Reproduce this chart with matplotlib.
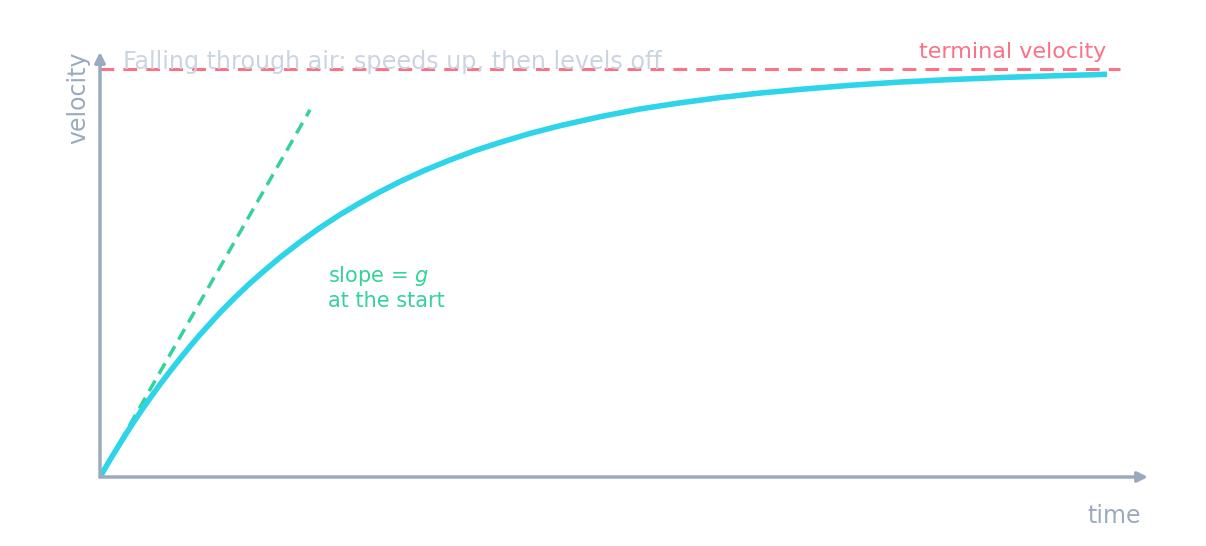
import matplotlib
matplotlib.use("Agg")
import matplotlib.pyplot as plt

t = [0, 0.1, 0.2, 0.3, 0.4, 0.5, 0.6, 0.7, 0.8, 0.9, 1.0, 1.1, 1.2, 1.35, 1.5, 1.65, 1.8, 2.0, 2.2, 2.4, 2.6, 2.8, 3.0, 3.25, 3.5, 3.75, 4.0, 4.3, 4.6, 5.0, 5.4, 5.8, 6.2, 6.6, 7.0, 7.5, 8.0, 8.5, 9.0, 9.5, 10.07]
v = [0, 0.042, 0.082, 0.121, 0.158, 0.193, 0.227, 0.259, 0.290, 0.320, 0.349, 0.376, 0.403, 0.440, 0.475, 0.507, 0.538, 0.576, 0.611, 0.643, 0.672, 0.699, 0.724, 0.752, 0.777, 0.800, 0.820, 0.842, 0.861, 0.883, 0.902, 0.917, 0.930, 0.941, 0.950, 0.960, 0.968, 0.974, 0.979, 0.983, 0.987]
tangent_t = [0, 2.1]
tangent_v = [0, 0.9]
terminal_t = [0, 10.2]
terminal_v = [1, 1]

fig = plt.figure(figsize=(12.06, 5.46), dpi=100)
ax = fig.add_axes([100/1206, 69/546, 1048/1206, 425/546])
ax.set_xlim(0, 10.48)
ax.set_ylim(0, 425/408)
ax.axis("off")
gray = "#9aabbf"
ax.annotate("", xy=(10.48, 0), xytext=(0, 0), arrowprops=dict(arrowstyle="-|>", color=gray, lw=2.5, mutation_scale=15, shrinkA=0, shrinkB=0))
ax.annotate("", xy=(0, 425/408), xytext=(0, 0), arrowprops=dict(arrowstyle="-|>", color=gray, lw=2.5, mutation_scale=15, shrinkA=0, shrinkB=0))

ax.plot(terminal_t, terminal_v, color="#fb7185", lw=2.2, ls=(0, (4.5, 3)))
ax.plot(tangent_t, tangent_v, color="#34d399", lw=2.5, ls=(0, (3.5, 2.2)))
ax.plot(t, v, color="#2dd4ea", lw=4, solid_capstyle="butt", solid_joinstyle="round")

ax.text(0.23, 1.017, "Falling through air: speeds up, then levels off", color="#cbd5e1", fontsize=17.2, va="center", ha="left")
ax.text(10.06, 1.042, "terminal velocity", color="#fb7185", fontsize=16, va="center", ha="right")
ax.text(2.28, 0.493, "slope = $g$", color="#34d399", fontsize=15, va="center", ha="left")
ax.text(2.28, 0.432, "at the start", color="#34d399", fontsize=15, va="center", ha="left")
fig.text(78/1206, 1-98/546, "velocity", rotation=90, color=gray, fontsize=17, ha="center", va="center")
fig.text(1141/1206, 1-516/546, "time", color=gray, fontsize=17, ha="right", va="center")
fig.savefig("out.png", dpi=100)
